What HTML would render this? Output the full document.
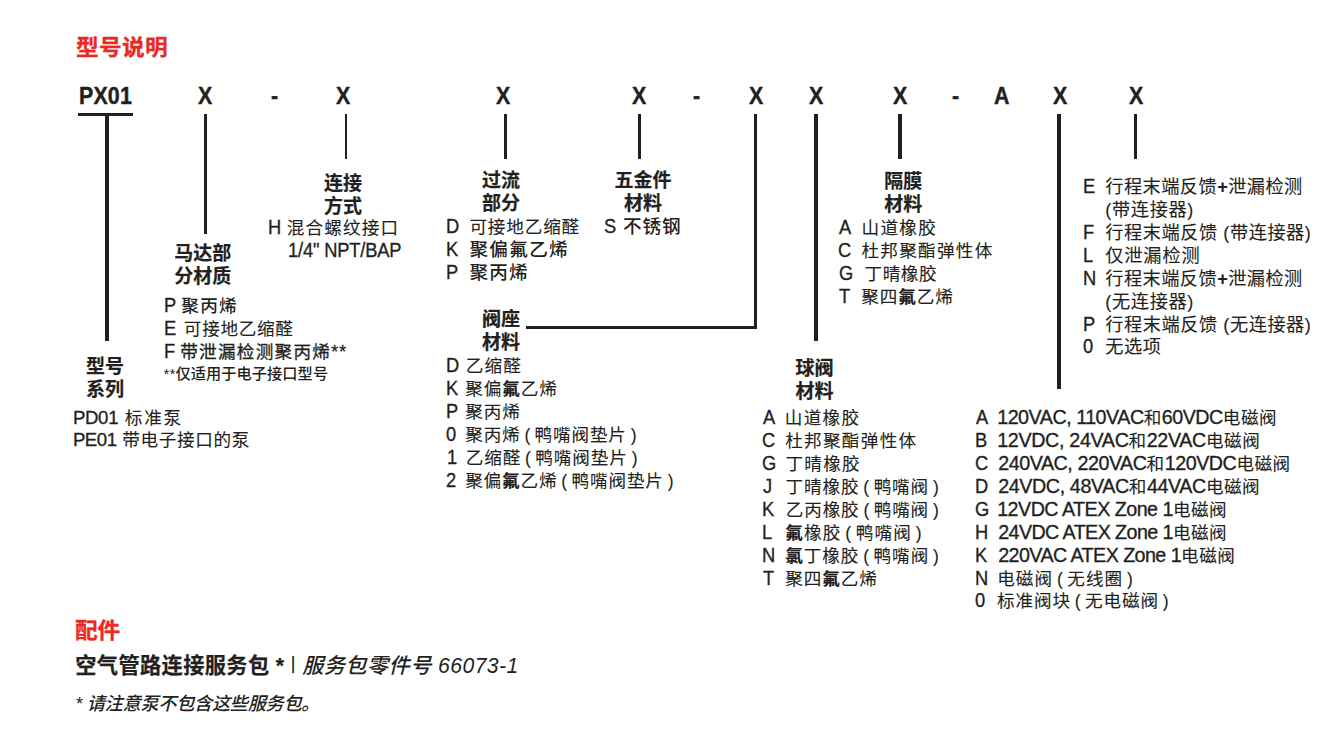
<!DOCTYPE html>
<html lang="zh-CN">
<head>
<meta charset="utf-8">
<title>型号说明</title>
<style>
html,body{margin:0;padding:0;background:#fff}
h1,h2,h3,p,ul,li{margin:0;padding:0;font:inherit;list-style:none}
body{width:1340px;height:730px;position:relative;overflow:hidden;
 font-family:"Liberation Sans","Noto Sans CJK SC",sans-serif;color:#231f20}
.t{position:absolute;white-space:nowrap;line-height:24px;margin:0;font-size:17.6px;-webkit-text-stroke:.1px #231f20}
.k,.l{font-size:var(--s,19.7px);letter-spacing:var(--l,0);line-height:0;-webkit-text-stroke:.32px #231f20}
.k{display:inline-block;transform:scaleX(.93);transform-origin:0 50%}
.c{transform:scaleX(.93);transform-origin:0 50%}
.c .k{transform:none}
.p{margin:0 .2em 0 .22em}
.m{font-weight:500;-webkit-text-stroke:0}
.s{-webkit-text-stroke:.3px #231f20}
.h{font-weight:700;font-size:19px;line-height:23px;width:90px;text-align:center;-webkit-text-stroke:.2px #231f20}
.x{font-weight:700;-webkit-text-stroke:.4px #231f20;transform:scaleX(.93);transform-origin:0 50%}
.r{color:#e92a23;font-weight:700;-webkit-text-stroke:.3px #e92a23;transform:scaleX(1.07);transform-origin:0 50%}
.bar{font-size:.84em;position:relative;top:-.17em;-webkit-text-stroke:.25px #231f20}
.it{font-style:italic}
.ln{position:absolute;display:block;background:#231f20}
b{font-weight:700}
.big b{-webkit-text-stroke:.25px #231f20}
</style>
</head>
<body>
<main>
<section class="model">
<h1 class="t r" style="left:75.8px;top:35.5px;font-size:21.2px;letter-spacing:0.30px">型号说明</h1>
<div class="code">
<span class="t x" style="left:78.5px;top:84px;font-size:23px;letter-spacing:0.17px">PX01</span>
<span class="t x" style="left:198.4px;top:84px;font-size:23px">X</span>
<span class="t x" style="left:270.8px;top:84px;font-size:23px">-</span>
<span class="t x" style="left:336.2px;top:84px;font-size:23px">X</span>
<span class="t x" style="left:495.7px;top:84px;font-size:23px">X</span>
<span class="t x" style="left:631.9px;top:84px;font-size:23px">X</span>
<span class="t x" style="left:693.2px;top:84px;font-size:23px">-</span>
<span class="t x" style="left:749.0px;top:84px;font-size:23px">X</span>
<span class="t x" style="left:808.7px;top:84px;font-size:23px">X</span>
<span class="t x" style="left:893.2px;top:84px;font-size:23px">X</span>
<span class="t x" style="left:952.2px;top:84px;font-size:23px">-</span>
<span class="t x" style="left:994.2px;top:84px;font-size:23px">A</span>
<span class="t x" style="left:1052.8px;top:84px;font-size:23px">X</span>
<span class="t x" style="left:1128.5px;top:84px;font-size:23px">X</span>
</div>
<div class="wires">
<i class="ln" style="left:78.25px;top:113px;width:54.75px;height:3px"></i>
<i class="ln" style="left:105px;top:115px;width:4px;height:225.75px"></i>
<i class="ln" style="left:204.25px;top:114px;width:2.75px;height:120px"></i>
<i class="ln" style="left:344.5px;top:114px;width:2.5px;height:44.75px"></i>
<i class="ln" style="left:504.25px;top:114px;width:2.75px;height:44.75px"></i>
<i class="ln" style="left:638px;top:114px;width:2.75px;height:44.75px"></i>
<i class="ln" style="left:754px;top:114px;width:2.75px;height:215px"></i>
<i class="ln" style="left:526.25px;top:325.75px;width:230.5px;height:3.5px"></i>
<i class="ln" style="left:814.25px;top:114px;width:3.75px;height:226.75px"></i>
<i class="ln" style="left:898px;top:114px;width:4px;height:44.75px"></i>
<i class="ln" style="left:1057px;top:114px;width:4px;height:274.75px"></i>
<i class="ln" style="left:1134px;top:114px;width:2.75px;height:44.75px"></i>
</div>
<div class="g">
<h3 class="t h" style="left:60px;top:355px">型号<br>系列</h3>
<ul>
<li class="t" style="left:72.9px;top:406px;letter-spacing:1.73px;--l:-0.30px;--s:18.6px"><span class="l">PD01</span> 标准泵</li>
<li class="t" style="left:72.9px;top:428px;letter-spacing:0.69px;--l:-0.45px;--s:18.6px"><span class="l">PE01</span> 带电子接口的泵</li>
</ul>
</div>
<div class="g">
<h3 class="t h" style="left:157.7px;top:242px">马达部<br>分材质</h3>
<ul>
<li class="t m" style="left:164.0px;top:294px;letter-spacing:1.30px"><span class="k" style="width:11.1px">P</span> 聚丙烯</li>
<li class="t" style="left:164.0px;top:317px;letter-spacing:0.68px"><span class="k" style="width:14.3px">E</span> 可接地乙缩醛</li>
<li class="t s" style="left:164.0px;top:340px;letter-spacing:1.28px"><span class="k" style="width:10.0px">F</span> 带泄漏检测聚丙烯**</li>
</ul>
<p class="t m" style="left:163.5px;top:361.5px;font-size:15.2px;letter-spacing:0.08px">**仅适用于电子接口型号</p>
</div>
<div class="g">
<h3 class="t h" style="left:298.1px;top:172px">连接<br>方式</h3>
<ul>
<li class="t" style="left:267.9px;top:216px;letter-spacing:1.16px"><span class="k" style="width:12.7px">H</span> 混合螺纹接口</li>
<li class="t c" style="left:287.8px;top:239px;letter-spacing:0.60px;--l:-0.18px"><span class="l">1/4" NPT/BAP</span></li>
</ul>
</div>
<div class="g">
<h3 class="t h" style="left:455.9px;top:169px">过流<br>部分</h3>
<ul>
<li class="t" style="left:445.9px;top:215px;letter-spacing:0.84px"><span class="k" style="width:17.8px">D</span> 可接地乙缩醛</li>
<li class="t m" style="left:445.9px;top:237.5px;font-size:18.6px;letter-spacing:1.30px"><span class="k" style="width:17.1px">K</span> 聚偏氟乙烯</li>
<li class="t m" style="left:445.9px;top:260.5px;font-size:18.6px;letter-spacing:1.20px"><span class="k" style="width:17.2px">P</span> 聚丙烯</li>
</ul>
</div>
<div class="g">
<h3 class="t h" style="left:597.9px;top:169px">五金件<br>材料</h3>
<ul>
<li class="t m" style="left:604.0px;top:214.5px;font-size:18.6px;letter-spacing:0.88px"><span class="k" style="width:12.9px">S</span> 不锈钢</li>
</ul>
</div>
<div class="g">
<h3 class="t h" style="left:455.9px;top:308px">阀座<br>材料</h3>
<ul>
<li class="t" style="left:446.1px;top:354px;letter-spacing:1.10px"><span class="k" style="width:13.7px">D</span> 乙缩醛</li>
<li class="t" style="left:446.1px;top:377px;letter-spacing:0.90px"><span class="k" style="width:13.3px">K</span> 聚偏<b>氟</b>乙烯</li>
<li class="t" style="left:446.1px;top:400px;letter-spacing:0.90px"><span class="k" style="width:13.3px">P</span> 聚丙烯</li>
<li class="t" style="left:446.1px;top:423px;letter-spacing:0.84px"><span class="k" style="width:13.4px">0</span> 聚丙烯<span class="p">(</span>鸭嘴阀垫片<span class="p">)</span></li>
<li class="t" style="left:447.3px;top:446px;letter-spacing:0.89px"><span class="k" style="width:12.7px">1</span> 乙缩醛<span class="p">(</span>鸭嘴阀垫片<span class="p">)</span></li>
<li class="t" style="left:446.1px;top:469px;letter-spacing:0.86px"><span class="k" style="width:13.3px">2</span> 聚偏<b>氟</b>乙烯<span class="p">(</span>鸭嘴阀垫片<span class="p">)</span></li>
</ul>
</div>
<div class="g">
<h3 class="t h" style="left:769.4px;top:357px">球阀<br>材料</h3>
<ul>
<li class="t" style="left:763.1px;top:406px;letter-spacing:1.30px"><span class="k" style="width:15.5px">A</span> 山道橡胶</li>
<li class="t" style="left:762.1px;top:429px;letter-spacing:1.30px"><span class="k" style="width:16.9px">C</span> 杜邦聚酯弹性体</li>
<li class="t" style="left:762.1px;top:452px;letter-spacing:1.30px"><span class="k" style="width:17.1px">G</span> 丁晴橡胶</li>
<li class="t" style="left:763.1px;top:475px;letter-spacing:0.89px"><span class="k" style="width:16.7px">J</span> 丁晴橡胶<span class="p">(</span>鸭嘴阀<span class="p">)</span></li>
<li class="t" style="left:762.1px;top:498px;letter-spacing:0.86px"><span class="k" style="width:17.9px">K</span> 乙丙橡胶<span class="p">(</span>鸭嘴阀<span class="p">)</span></li>
<li class="t" style="left:762.1px;top:521px;letter-spacing:1.14px"><span class="k" style="width:17.1px">L</span> <b>氟</b>橡胶<span class="p">(</span>鸭嘴阀<span class="p">)</span></li>
<li class="t" style="left:762.1px;top:544px;letter-spacing:0.94px"><span class="k" style="width:17.3px">N</span> <b>氯</b>丁橡胶<span class="p">(</span>鸭嘴阀<span class="p">)</span></li>
<li class="t" style="left:763.1px;top:567px;letter-spacing:0.90px"><span class="k" style="width:16.3px">T</span> 聚四<b>氟</b>乙烯</li>
</ul>
</div>
<div class="g">
<h3 class="t h" style="left:858.25px;top:170px">隔膜<br>材料</h3>
<ul>
<li class="t" style="left:839.4px;top:216px;letter-spacing:1.30px"><span class="k" style="width:16.0px">A</span> 山道橡胶</li>
<li class="t" style="left:838.2px;top:239px;letter-spacing:1.30px"><span class="k" style="width:17.0px">C</span> 杜邦聚酯弹性体</li>
<li class="t" style="left:838.6px;top:262px;letter-spacing:0.53px"><span class="k" style="width:20.5px">G</span> 丁晴橡胶</li>
<li class="t" style="left:839.2px;top:285px;letter-spacing:0.88px"><span class="k" style="width:16.4px">T</span> 聚四<b>氟</b>乙烯</li>
</ul>
</div>
<div class="g">
<ul>
<li class="t" style="left:975.6px;top:406px;letter-spacing:0.50px;--l:-0.48px"><span class="k" style="width:16.2px">A</span> <span class="l">120VAC, 110VAC</span>和<span class="l">60VDC</span>电磁阀</li>
<li class="t" style="left:974.6px;top:429px;letter-spacing:0.50px;--l:-0.33px"><span class="k" style="width:17.2px">B</span> <span class="l">12VDC, 24VAC</span>和<span class="l">22VAC</span>电磁阀</li>
<li class="t" style="left:974.6px;top:452px;letter-spacing:0.50px;--l:-0.45px"><span class="k" style="width:18.2px">C</span> <span class="l">240VAC, 220VAC</span>和<span class="l">120VDC</span>电磁阀</li>
<li class="t" style="left:974.6px;top:475px;letter-spacing:0.50px;--l:-0.39px"><span class="k" style="width:18.2px">D</span> <span class="l">24VDC, 48VAC</span>和<span class="l">44VAC</span>电磁阀</li>
<li class="t" style="left:974.6px;top:498px;letter-spacing:0.50px;--l:-0.52px"><span class="k" style="width:17.2px">G</span> <span class="l">12VDC ATEX Zone 1</span>电磁阀</li>
<li class="t" style="left:974.6px;top:521px;letter-spacing:0.50px;--l:-0.58px"><span class="k" style="width:18.2px">H</span> <span class="l">24VDC ATEX Zone 1</span>电磁阀</li>
<li class="t" style="left:974.6px;top:544px;letter-spacing:0.50px;--l:-0.56px"><span class="k" style="width:18.2px">K</span> <span class="l">220VAC ATEX Zone 1</span>电磁阀</li>
<li class="t" style="left:974.6px;top:567px;letter-spacing:1.03px"><span class="k" style="width:16.7px">N</span> 电磁阀<span class="p">(</span>无线圈<span class="p">)</span></li>
<li class="t" style="left:974.6px;top:589px;letter-spacing:0.88px"><span class="k" style="width:16.6px">0</span> 标准阀块<span class="p">(</span>无电磁阀<span class="p">)</span></li>
</ul>
</div>
<div class="g">
<ul>
<li class="t" style="left:1082.7px;top:175px;font-size:18.2px;letter-spacing:0.45px"><span class="k" style="width:17.1px">E</span> 行程末端反馈<b>+</b>泄漏检测</li>
<li class="t" style="left:1105.3px;top:198px;font-size:18.2px;letter-spacing:0.64px">(带连接器)</li>
<li class="t" style="left:1082.7px;top:221px;font-size:18.2px;letter-spacing:0.54px"><span class="k" style="width:17.1px">F</span> 行程末端反馈 (带连接器)</li>
<li class="t" style="left:1082.7px;top:244px;font-size:18.2px;letter-spacing:0.82px"><span class="k" style="width:16.8px">L</span> 仅泄漏检测</li>
<li class="t" style="left:1082.7px;top:267px;font-size:18.2px;letter-spacing:0.45px"><span class="k" style="width:17.1px">N</span> 行程末端反馈<b>+</b>泄漏检测</li>
<li class="t" style="left:1105.3px;top:290px;font-size:18.2px;letter-spacing:0.64px">(无连接器)</li>
<li class="t" style="left:1082.7px;top:313px;font-size:18.2px;letter-spacing:0.54px"><span class="k" style="width:17.1px">P</span> 行程末端反馈 (无连接器)</li>
<li class="t" style="left:1082.7px;top:335px;font-size:18.2px;letter-spacing:0.50px"><span class="k" style="width:17.1px">0</span> 无选项</li>
</ul>
</div>
</section>
<section class="acc">
<h1 class="t r" style="left:75.2px;top:618.5px;font-size:21.2px;letter-spacing:-0.20px">配件</h1>
<p class="t big" style="left:75.2px;top:653.5px;font-size:21.2px;letter-spacing:0.41px"><b>空气管路连接服务包 *</b> <span class="bar">|</span> <span class="it m">服务包零件号 66073-1</span></p>
<p class="t it m" style="left:75.2px;top:692px;font-size:18.2px;letter-spacing:-0.30px">* 请注意泵不包含这些服务包。</p>
</section>
</main>
</body>
</html>
